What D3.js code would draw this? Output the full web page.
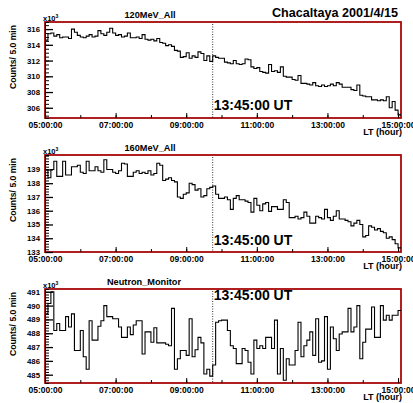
<!DOCTYPE html>
<html>
<head>
<meta charset="utf-8">
<script src="https://cdn.jsdelivr.net/npm/d3@7"></script>
<style>
body { margin: 0; background: #fff; }
svg text { font-family: "Liberation Sans", Arial, sans-serif; font-weight: bold; fill: #000; }
</style>
</head>
<body>
<svg id="chart" width="413" height="403"></svg>
<script>
// 5 min bins, local time, starting 05:00 LT
const binMinutes = 5;
const startHour = 5;

const counts120 = [
    314.6, 315.4,
    315.5, 315.1, 315.3, 314.9, 315.0, 315.0, 314.8, 316.0, 315.6, 315.2, 315.0, 314.9, 315.1, 315.3, 315.0, 315.1,
    315.8, 315.4, 315.2, 315.6, 316.1, 315.5, 315.2, 315.3, 315.0, 315.1, 315.5, 314.9, 314.9, 315.0, 314.8, 315.3, 314.7,
    314.6, 314.7, 314.5, 314.8, 314.3, 314.2, 313.9, 314.0, 313.8, 313.3, 313.2, 312.4, 312.5, 313.0, 312.3, 312.6, 312.4, 313.1,
    312.9, 312.0, 312.6, 311.9,
    312.6, 312.4, 312.3, 312.3, 311.8, 311.7, 311.6, 312.0, 311.6, 311.5, 311.6, 312.2, 312.1, 311.2,
    311.0, 311.1, 310.6, 310.5, 310.4, 311.5, 310.6, 310.7, 310.5, 311.2, 310.0, 309.9, 309.9, 309.6, 309.5, 310.1,
    309.1, 309.1, 309.0, 308.9, 309.2, 308.8, 308.7, 308.9, 308.7, 308.8, 309.0, 308.8, 309.2, 309.0, 308.6, 308.6, 308.6, 308.3,
    308.2, 308.9, 307.6, 307.5, 307.4, 307.4, 307.0, 307.0, 306.9, 307.0, 306.9, 307.4, 306.0, 306.8, 305.7, 305.1
];

const counts160 = [
    139.0, 138.4, 139.0, 139.6, 138.5, 138.5, 139.6, 138.6, 138.6, 139.2, 139.2, 139.3, 138.8, 138.7, 139.6, 138.9,
    138.9, 139.2, 138.9, 138.8, 139.7, 139.0, 139.0, 138.8, 138.7, 138.9, 139.45, 139.4, 138.5, 138.5, 138.8, 138.9,
    138.7, 138.8, 138.7, 138.9, 138.6, 138.7, 139.45, 139.3, 138.2, 138.3, 138.4, 138.2, 138.1, 137.0, 136.9, 137.2,
    137.3, 138.0, 137.9, 137.5, 137.6,
    137.0, 137.1, 137.6, 137.7, 137.8, 137.2, 136.9, 136.9, 137.0, 136.8, 136.1, 136.9, 137.1, 136.8, 136.8, 136.7,
    136.6, 135.9, 136.9, 136.4, 136.0, 136.5, 136.6, 135.95, 136.3, 136.3, 136.1, 136.1, 136.8, 136.6, 135.5, 135.5,
    135.6, 135.4, 135.5, 135.9, 135.6, 135.1, 135.1, 135.6, 135.5, 135.4, 136.1, 135.5, 135.3, 135.6, 136.0, 135.4,
    135.4, 135.3, 135.2, 134.9, 135.1, 135.3, 135.0, 134.1, 134.2, 134.9, 134.8, 134.6, 134.7, 134.5, 134.4, 134.0,
    134.1, 133.9, 133.6, 133.3
];

const countsNeutron = [
    489.4, 490.15, 491.0, 488.2, 488.7, 488.2, 488.2, 489.2, 488.45, 489.4, 486.75, 486.75, 488.2, 486.3, 485.4, 488.9,
    487.5, 487.5, 488.5, 488.9, 490.0, 489.2, 489.2, 489.05, 489.05, 488.45, 487.7, 487.7, 488.45, 487.9, 488.6, 488.9,
    488.9, 486.5, 488.1, 488.1, 487.35, 488.4, 487.3, 487.3, 487.3, 487.2, 487.1, 489.8, 485.4, 486.15, 486.75, 486.75,
    486.4, 489.05, 486.3, 486.8, 487.7, 487.3, 485.05, 485.4, 484.9, 485.7, 488.8, 488.9, 488.95, 488.95, 488.2, 487.1,
    486.9, 485.8, 485.8, 486.9, 486.75, 485.9, 485.05, 487.5, 486.9, 487.1, 486.9, 487.7, 487.7, 486.9, 488.95, 485.05,
    486.9, 484.6, 486.15, 485.7, 485.7, 486.75, 488.8, 486.3, 487.1, 487.5, 488.1, 486.4, 489.05, 485.9, 486.0, 489.2,
    485.4, 488.45, 487.6, 486.75, 487.95, 488.1, 488.1, 489.8, 488.1, 488.45, 490.0, 486.15, 487.35, 488.3, 488.3, 489.9,
    487.7, 487.7, 490.0, 488.95, 489.3, 488.95, 489.3, 489.3, 489.65
];

const titles = ["120MeV_All", "160MeV_All", "Neutron_Monitor"];
const xTickHours = [5, 7, 9, 11, 13, 15];
const xTickLabels = ["05:00:00", "07:00:00", "09:00:00", "11:00:00", "13:00:00", "15:00:00"];
const yTicks120 = [306, 308, 310, 312, 314, 316];
const yTicks160 = [133, 134, 135, 136, 137, 138, 139];
const yTicksNeutron = [485, 486, 487, 488, 489, 490, 491];
const markerHour = 9.75; // 13:45:00 UT = 09:45 LT
const markerLabel = "13:45:00 UT";

const svg = d3.select('#chart');
const left = 45, right = 401;
const endHour = startHour + counts120.length * binMinutes / 60;
const x = d3.scaleLinear().domain([startHour, endHour]).range([left, right]);

const panels = [
    { data: counts120, title: titles[0], top: 22, bottom: 118, ydom: [304.7, 316.9], ticks: yTicks120, minor: 0.5, titleX: 150, markY: 110 },
    { data: counts160, title: titles[1], top: 155, bottom: 252, ydom: [133, 140.05], ticks: yTicks160, minor: 0.2, titleX: 150, markY: 245 },
    { data: countsNeutron, title: titles[2], top: 289, bottom: 383, ydom: [484.4, 491.2], ticks: yTicksNeutron, minor: 0.2, titleX: 144, markY: 300 }
];

svg.append('text')
    .attr('x', 398).attr('y', 17)
    .attr('text-anchor', 'end')
    .style('font-size', '12.6px')
    .text('Chacaltaya 2001/4/15');

panels.forEach(p => {
    const y = d3.scaleLinear().domain(p.ydom).range([p.bottom, p.top]);
    const g = svg.append('g');

    // frame
    g.append('rect')
        .attr('x', left).attr('y', p.top)
        .attr('width', right - left).attr('height', p.bottom - p.top)
        .style('fill', 'none')
        .style('stroke', '#a80808')
        .style('stroke-width', '1.8px');

    // y axis, major + minor
    const minorY = d3.range(Math.ceil(p.ydom[0] / p.minor) * p.minor, p.ydom[1], p.minor)
        .map(v => +v.toFixed(2));
    g.append('g')
        .attr('transform', 'translate(' + left + ',0)')
        .call(d3.axisLeft(y).tickValues(minorY).tickSize(-4).tickFormat(''))
        .call(a => a.select('.domain').attr('stroke', '#000'));
    g.append('g')
        .attr('transform', 'translate(' + left + ',0)')
        .call(d3.axisLeft(y).tickValues(p.ticks).tickSize(-8).tickPadding(5).tickFormat(d3.format('d')))
        .call(a => a.select('.domain').remove())
        .call(a => a.selectAll('line').style('stroke-width', '1.3px'))
        .call(a => a.selectAll('text')
            .style('font-size', '7.8px')
            .style('font-family', '"Liberation Sans", Arial, sans-serif')
            .style('font-weight', 'bold'));

    // x axis, major + minor
    g.append('g')
        .attr('transform', 'translate(0,' + p.bottom + ')')
        .call(d3.axisBottom(x).tickValues(d3.range(5, 16, 1)).tickSize(-3).tickFormat(''))
        .call(a => a.select('.domain').remove());
    g.append('g')
        .attr('transform', 'translate(0,' + p.bottom + ')')
        .call(d3.axisBottom(x).tickValues(xTickHours).tickSize(-5).tickPadding(3.5)
            .tickFormat((d, i) => xTickLabels[i]))
        .call(a => a.select('.domain').remove())
        .call(a => a.selectAll('text')
            .style('font-size', '8.5px')
            .style('font-family', '"Liberation Sans", Arial, sans-serif')
            .style('font-weight', 'bold'));

    // histogram
    const pts = p.data.map((v, i) => [startHour + i * binMinutes / 60, v]);
    pts.push([endHour, p.data[p.data.length - 1]]);
    g.append('path')
        .datum(pts)
        .attr('d', d3.line().x(d => x(d[0])).y(d => y(d[1])).curve(d3.curveStepAfter))
        .style('fill', 'none')
        .style('stroke', '#000')
        .style('stroke-width', '1.1px');

    // marker line
    g.append('line')
        .attr('x1', x(markerHour)).attr('x2', x(markerHour))
        .attr('y1', p.top + 2).attr('y2', p.bottom)
        .style('stroke', '#000')
        .style('stroke-width', '0.8px')
        .style('stroke-dasharray', '1,1.5');
    g.append('text')
        .attr('x', x(markerHour) + 1).attr('y', p.markY)
        .style('font-size', '14px')
        .text(markerLabel);

    // titles
    g.append('text')
        .attr('x', p.titleX).attr('y', p.top - 4)
        .attr('text-anchor', 'middle')
        .style('font-size', '9.2px')
        .text(p.title);
    const mult = g.append('text').attr('x', 43).attr('y', p.top - 1).style('font-size', '7.5px');
    mult.append('tspan').text('x10');
    mult.append('tspan').attr('dy', -3).style('font-size', '5px').text('3');

    g.append('text')
        .attr('transform', 'translate(16,' + (p.top + 3) + ') rotate(-90)')
        .attr('text-anchor', 'end')
        .style('font-size', '8.6px')
        .text('Counts/ 5.0 min');

    g.append('text')
        .attr('x', 402).attr('y', p.bottom + 16.5)
        .attr('text-anchor', 'end')
        .style('font-size', '9px')
        .text('LT (hour)');
});
</script>
</body>
</html>
